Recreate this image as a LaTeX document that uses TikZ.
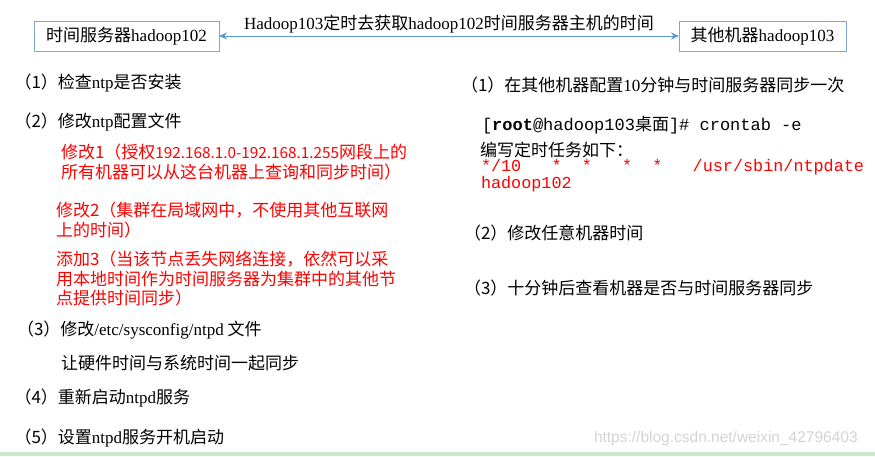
\documentclass[tikz,border=0pt]{standalone}
\usepackage{fontspec}
\setmainfont{Noto Sans CJK SC}
\newfontfamily\lat{Liberation Serif}
\newfontfamily\mono{Liberation Mono}
\newfontfamily\wm{Liberation Sans}
\usetikzlibrary{arrows.meta}
\definecolor{boxblue}{HTML}{7EA6D8}
\definecolor{arrblue}{HTML}{5B9BD5}
\definecolor{txtred}{HTML}{FF0000}
\definecolor{wmgray}{HTML}{D4D4D4}
\definecolor{bargreen}{HTML}{C8E8C8}
\begin{document}
\begin{tikzpicture}[x=1pt,y=-1pt,
  every node/.style={inner sep=0pt, outer sep=0pt},
  hostbox/.style={draw=boxblue, line width=1pt, minimum height=30pt, font=\fontsize{17}{19}\selectfont},
  txt/.style={anchor=west, font=\fontsize{17}{19.5}\selectfont, align=left},
  redtxt/.style={txt, text=txtred},
  code/.style={anchor=west, align=left, font=\mono\fontsize{16.8}{15.3}\selectfont},
  link/.style={arrblue, line width=1pt, {Stealth[length=8pt,width=7pt]}-{Stealth[length=8pt,width=7pt]}},
]
\useasboundingbox (0,0) rectangle (875,456);
\fill[white] (0,0) rectangle (875,456);
\fill[bargreen] (0,452) rectangle (875,456);

\node[hostbox, minimum width=185pt] (srv) at (126.5,36) {时间服务器{\lat hadoop102}};
\node[hostbox, minimum width=167pt] (oth) at (762.5,36) {其他机器{\lat hadoop103}};
\draw[link] (srv) -- node[midway, above=3pt, text=black, font=\fontsize{17}{19}\selectfont] (lbl) {{\lat Hadoop103}定时去获取{\lat hadoop102}时间服务器主机的时间} (oth);

% left column
\node[txt] (l1) at (14.5,83) {（1）检查{\lat ntp}是否安装};
\node[txt] (l2) at (14.5,122) {（2）修改{\lat ntp}配置文件};
\node[redtxt] (r1) at (61,162) {修改1（授权{\fontsize{15.3}{19.5}\selectfont 192.168.1.0-192.168.1.255}网段上的\\所有机器可以从这台机器上查询和同步时间）};
\node[redtxt] (r2) at (56,220) {修改2（集群在局域网中，不使用其他互联网\\上的时间）};
\node[redtxt] (r3) at (56,279) {添加3（当该节点丢失网络连接，依然可以采\\用本地时间作为时间服务器为集群中的其他节\\点提供时间同步）};
\node[txt] (l3) at (17,330) {（3）修改{\lat /etc/sysconfig/ntpd} 文件};
\node[txt] (l3a) at (61,363) {让硬件时间与系统时间一起同步};
\node[txt] (l4) at (14.5,398) {（4）重新启动{\lat ntpd}服务};
\node[txt] (l5) at (14.5,438) {（5）设置{\lat ntpd}服务开机启动};

% right column
\node[txt] (q1) at (461,85) {（1）在其他机器配置{\lat 10}分钟与时间服务器同步一次};
\node[anchor=west, font=\fontsize{17}{17}\selectfont] (cmd) at (482,125) {{\mono\fontsize{17}{17}\selectfont[\bfseries root\mdseries @hadoop103}桌面{\mono\fontsize{17}{17}\selectfont]\#\ crontab\ -e}};
\node[txt] (q1a) at (480,150) {编写定时任务如下：};
\node[code, text=txtred] (c1) at (481,175.5) {*/10\ \ \ *\ \ *\ \ \ *\ \ *\ \ \ /usr/sbin/ntpdate\\hadoop102};
\node[txt] (q2) at (464,233) {（2）修改任意机器时间};
\node[txt] (q3) at (464,288) {（3）十分钟后查看机器是否与时间服务器同步};

\node[anchor=west, text=wmgray, font=\wm\fontsize{15.5}{15.5}\selectfont] (wm) at (594,438) {https://blog.csdn.net/weixin\_42796403};
\end{tikzpicture}
\end{document}
